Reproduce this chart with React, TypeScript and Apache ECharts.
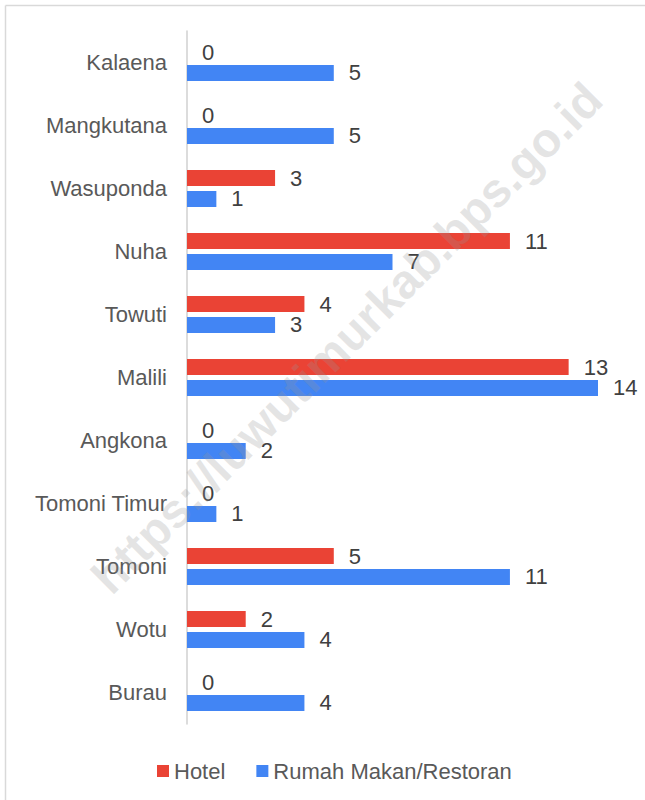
import React, { useEffect, useRef } from "react";
import * as echarts from "echarts";

const categories = [
  "Kalaena",
  "Mangkutana",
  "Wasuponda",
  "Nuha",
  "Towuti",
  "Malili",
  "Angkona",
  "Tomoni Timur",
  "Tomoni",
  "Wotu",
  "Burau",
];
const hotel = [0, 0, 3, 11, 4, 13, 0, 0, 5, 2, 0];
const restoran = [5, 5, 1, 7, 3, 14, 2, 1, 11, 4, 4];
const seriesNames = ["Hotel", "Rumah Makan/Restoran"];
const watermark = "https://luwutimurkab.bps.go.id";

const FONT = "'Liberation Sans', Arial, sans-serif";

export default function App() {
  const ref = useRef<HTMLDivElement>(null);
  useEffect(() => {
    document.body.style.margin = "0";
    if (!ref.current) return;
    const chart = echarts.init(ref.current, null, { renderer: "svg" });
    const labelStyle = {
      show: true,
      position: "right" as const,
      distance: 15,
      fontSize: 22,
      color: "#404040",
      fontFamily: FONT,
    };
    chart.setOption({
      animation: false,
      backgroundColor: "#ffffff",
      textStyle: { fontFamily: FONT },
      grid: { left: 187, top: 31, width: 411, height: 693, containLabel: false },
      xAxis: {
        type: "value",
        min: 0,
        max: 14,
        show: false,
        splitLine: { show: false },
      },
      yAxis: {
        type: "category",
        data: categories,
        inverse: true,
        axisLine: { show: true, lineStyle: { color: "#d0d0d0", width: 1.5 } },
        axisTick: { show: false },
        axisLabel: { fontSize: 22, color: "#595959", margin: 20, fontFamily: FONT },
        splitLine: { show: false },
      },
      legend: {
        data: seriesNames,
        left: 152,
        top: 755,
        icon: "rect",
        itemWidth: 12,
        itemHeight: 12,
        itemGap: 31,
        textStyle: { fontSize: 22, color: "#595959", fontFamily: FONT },
      },
      series: [
        {
          name: seriesNames[0],
          type: "bar",
          data: hotel,
          barWidth: 16,
          barGap: "31%",
          itemStyle: { color: "#EA4335" },
          label: labelStyle,
        },
        {
          name: seriesNames[1],
          type: "bar",
          data: restoran,
          barWidth: 16,
          barGap: "31%",
          itemStyle: { color: "#4285F4" },
          label: labelStyle,
        },
      ],
      graphic: [
        {
          type: "line",
          shape: { x1: 5.5, y1: 5.5, x2: 645, y2: 5.5 },
          style: { stroke: "#d9d9d9", lineWidth: 1.5 },
          silent: true,
        },
        {
          type: "line",
          shape: { x1: 5.5, y1: 5.5, x2: 5.5, y2: 800 },
          style: { stroke: "#d9d9d9", lineWidth: 1.5 },
          silent: true,
        },
        {
          type: "text",
          x: 347,
          y: 338,
          rotation: Math.PI / 4,
          z: 100,
          silent: true,
          style: {
            text: watermark,
            fontSize: 48,
            fontWeight: "bold",
            fontFamily: FONT,
            fill: "rgba(150,150,150,0.25)",
            align: "center",
            verticalAlign: "middle",
            textAlign: "center",
            textVerticalAlign: "middle",
          },
        },
      ],
    });
    return () => chart.dispose();
  }, []);
  return <div ref={ref} style={{ width: 645, height: 800 }} />;
}
